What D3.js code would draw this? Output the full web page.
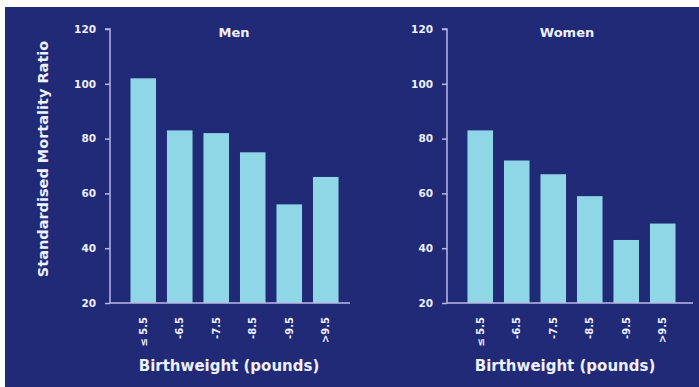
<!DOCTYPE html>
<html>
<head>
<meta charset="utf-8">
<script src="https://cdn.jsdelivr.net/npm/d3@7"></script>
<style>
  html, body { margin: 0; padding: 0; background: #ffffff; }
  svg { display: block; }
  text { font-family: "DejaVu Sans", Arial, sans-serif; font-weight: bold; fill: #eef0fa; }
</style>
</head>
<body>
<svg id="chart" width="699" height="387"></svg>
<script>
// Birthweight groups (pounds)
const categories = ["\u2264 5.5", "-6.5", "-7.5", "-8.5", "-9.5", ">9.5"];
// Standardised mortality ratio per group
const menValues = [102, 83, 82, 75, 56, 66];
const womenValues = [83, 72, 67, 59, 43, 49];
const yTicks = [20, 40, 60, 80, 100, 120];
const panelTitles = ["Men", "Women"];

const svg = d3.select("#chart");
const W = 699, H = 387;
const FONT = "DejaVu Sans, Arial, sans-serif";

svg.append("rect")
  .attr("x", 5).attr("y", 7)
  .attr("width", W - 5).attr("height", H - 7)
  .attr("fill", "#212a77");

const y = d3.scaleLinear().domain([20, 120]).range([303, 29]);

const panels = [
  { title: panelTitles[0], values: menValues, axisX: 110, xRange: [125, 344], end: 350, titleX: 234, xTitleX: 229 },
  { title: panelTitles[1], values: womenValues, axisX: 447, xRange: [462, 681], end: 693, titleX: 567, xTitleX: 565 }
];

panels.forEach((p, pi) => {
  const g = svg.append("g");
  const x = d3.scaleBand().domain(categories).range(p.xRange).paddingInner(0.3).paddingOuter(0.15);

  // bars
  g.selectAll("rect.bar")
    .data(p.values)
    .join("rect")
    .attr("class", "bar")
    .attr("x", (d, i) => x(categories[i]))
    .attr("width", x.bandwidth())
    .attr("y", d => y(d))
    .attr("height", d => y(20) - y(d))
    .attr("fill", "#8fd7e6");

  // y axis
  const yAxis = d3.axisLeft(y).tickValues(yTicks).tickSize(5).tickPadding(9);
  const ya = g.append("g").attr("transform", `translate(${p.axisX},0)`).call(yAxis);
  ya.select(".domain").attr("stroke", "#b8b8e6").attr("stroke-width", 1.5).attr("d", `M-5,${y(120)}H0V${y(20)}`);
  ya.selectAll(".tick line").attr("stroke", "#b8b8e6").attr("stroke-width", 1.5);
  ya.selectAll(".tick text").attr("font-size", 10.5).attr("fill", "#eef0fa")
    .attr("font-family", FONT).attr("font-weight", "bold");

  // baseline
  g.append("line")
    .attr("x1", p.axisX).attr("x2", p.end)
    .attr("y1", y(20)).attr("y2", y(20))
    .attr("stroke", "#b8b8e6").attr("stroke-width", 1.5);

  // x axis labels, rotated
  const xAxis = d3.axisBottom(x).tickSize(0).tickPadding(0);
  const xa = g.append("g").attr("transform", `translate(0,${y(20)})`).call(xAxis);
  xa.select(".domain").remove();
  xa.selectAll(".tick text")
    .attr("font-size", 10).attr("fill", "#eef0fa")
    .attr("font-family", FONT).attr("font-weight", "bold")
    .attr("transform", "rotate(-90)")
    .attr("text-anchor", "end")
    .attr("x", -14).attr("y", 0).attr("dy", "0.35em");

  // panel title
  g.append("text")
    .attr("x", p.titleX).attr("y", 37)
    .attr("text-anchor", "middle").attr("font-size", 13)
    .text(p.title);

  // x axis title
  g.append("text")
    .attr("x", p.xTitleX).attr("y", 371)
    .attr("text-anchor", "middle").attr("font-size", 15)
    .text("Birthweight (pounds)");

  if (pi === 0) {
    g.append("text")
      .attr("transform", `translate(48,159) rotate(-90)`)
      .attr("text-anchor", "middle").attr("font-size", 14.5)
      .text("Standardised Mortality Ratio");
  }
});
</script>
</body>
</html>
